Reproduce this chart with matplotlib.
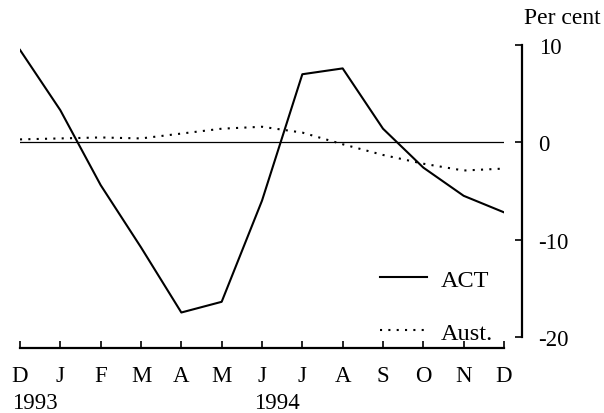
import matplotlib.pyplot as plt
from matplotlib.lines import Line2D

months = ["D", "J", "F", "M", "A", "M", "J", "J", "A", "S", "O", "N", "D"]
years = {0: "1993", 6: "1994"}
act = [9.5, 3.3, -4.4, -10.8, -17.5, -16.4, -6.0, 7.0, 7.6, 1.4, -2.6, -5.5, -7.2]
aust = [0.3, 0.4, 0.5, 0.4, 0.9, 1.4, 1.6, 1.0, -0.2, -1.3, -2.2, -2.9, -2.7]

plt.rcParams["font.family"] = ["Liberation Serif", "DejaVu Serif"]

fig = plt.figure(figsize=(6.04, 4.14), dpi=100)
ax = fig.add_axes([20 / 604, 1 - 349 / 414, 484 / 604, 307.8 / 414])

x = list(range(len(months)))
ax.axhline(0, color="black", lw=0.9, zorder=1)
ax.plot(x, act, color="black", lw=1.5, label="ACT", zorder=3)
ax.plot(x, aust, color="black", lw=1.5, ls=(0, (1, 3)), label="Aust.", zorder=2)

ax.set_xlim(0, 12)
ax.set_ylim(-21.15, 10.5)

for s in ["top", "left"]:
    ax.spines[s].set_visible(False)
ax.spines["bottom"].set_bounds(0, 12)
ax.spines["bottom"].set_linewidth(1.6)
ax.spines["right"].set_position(("axes", 1.037))
ax.spines["right"].set_bounds(-20, 10)
ax.spines["right"].set_linewidth(1.6)

ax.set_xticks(x)
ax.set_xticklabels(months, fontsize=16.5)
ax.tick_params(axis="x", direction="in", length=5, width=1.2, pad=12)

ax.yaxis.tick_right()
ax.set_yticks([-20, -10, 0, 10])
ax.set_yticklabels(["-20", "-10", "0", "10"], fontsize=16.5)
ax.tick_params(axis="y", direction="in", length=5, width=1.2, pad=12)

for i, yr in years.items():
    ax.annotate(yr, xy=(i, 0), xycoords=("data", "axes fraction"),
                xytext=(-8, -44), textcoords="offset pixels",
                ha="left", va="top", fontsize=16.5)

fig.text(562 / 604, 1 - 19 / 414, "Per cent", ha="center", va="center", fontsize=17)

handles = [Line2D([], [], color="black", lw=1.5),
           Line2D([], [], color="black", lw=1.5, ls=(0, (1, 3)))]
ax.legend(handles, ["ACT", "Aust."], loc="upper left", bbox_to_anchor=(0.744, 0.258),
          frameon=False, fontsize=17.5, handlelength=1.95, handletextpad=0.55,
          labelspacing=1.28, borderpad=0, borderaxespad=0)

fig.savefig("out.png", dpi=100)
